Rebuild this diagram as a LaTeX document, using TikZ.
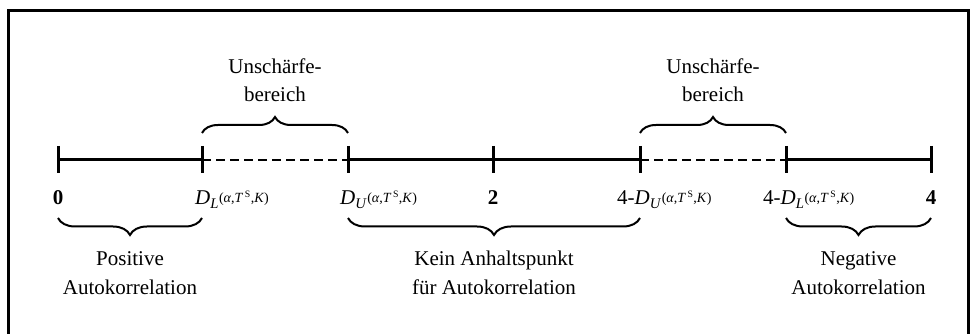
\documentclass[tikz,border=0pt]{standalone}
\usepackage{fontspec}
\setmainfont{Liberation Serif}
\usetikzlibrary{positioning,calc,decorations.pathreplacing}
\newcommand{\Dgrenze}[1]{\textit{D}\textsubscript{\textit{#1}}\raisebox{2pt}{\fontsize{14}{14}\selectfont(\textit{α},\textit{T}\textsuperscript{\,S},\textit{K})}}

\begin{document}
\begin{tikzpicture}[x=1pt,y=1pt,
		font=\fontsize{21}{28.5}\selectfont,
		axis/.style={line width=3pt},
		fuzzy/.style={line width=2.5pt, dash pattern=on 9pt off 5pt},
		tickmark/.style={line width=3pt},
		curlyup/.style={line width=2pt, decorate, decoration={brace, amplitude=16pt}},
		curlydown/.style={line width=2pt, decorate, decoration={brace, mirror, amplitude=17pt}},
		expl/.style={align=center, inner sep=0pt}]
		\useasboundingbox (0,0) rectangle (971,334);
		\draw[line width=3pt] (8,-5) -- (8,323) -- (968,323) -- (968,-5);
		
		% Punkte auf der Achse
		\coordinate (p0) at (58,174);
		\coordinate (p1) at (202,174);
		\coordinate (p2) at (348,174);
		\coordinate (p3) at (493,174);
		\coordinate (p4) at (640,174);
		\coordinate (p5) at (786,174);
		\coordinate (p6) at (931,174);
		
		\draw[axis] (p0) -- (p1);
		\draw[fuzzy] (p1) -- (p2);
		\draw[axis] (p2) -- (p4);
		\draw[fuzzy] (p4) -- (p5);
		\draw[axis] (p5) -- (p6);
		\foreach \i in {0,...,6}
			\draw[tickmark] ([yshift=14pt]p\i) -- ([yshift=-13pt]p\i);
		
		% Beschriftung der Punkte
		\node[below = 45pt of p0, anchor=base, inner sep=0pt] (l0) {\textbf{0}};
		\node[below = 45pt of p1, anchor=base west, xshift=-7pt, inner sep=0pt] (l1) {\Dgrenze{L}};
		\node[below = 45pt of p2, anchor=base west, xshift=-8pt, inner sep=0pt] (l2) {\Dgrenze{U}};
		\node[below = 45pt of p3, anchor=base, inner sep=0pt] (l3) {\textbf{2}};
		\node[below = 45pt of p4, anchor=base west, xshift=-23pt, inner sep=0pt] (l4) {4-\Dgrenze{U}};
		\node[below = 45pt of p5, anchor=base west, xshift=-23pt, inner sep=0pt] (l5) {4-\Dgrenze{L}};
		\node[below = 45pt of p6, anchor=base, inner sep=0pt] (l6) {\textbf{4}};
		
		% Klammern oben
		\draw[curlyup] ([yshift=27pt]p1) -- ([yshift=27pt]p2);
		\draw[curlyup] ([yshift=27pt]p4) -- ([yshift=27pt]p5);
		\node[expl] (u1) at ($(p1)!0.5!(p2)+(0,80)$) {Unschärfe-\\bereich};
		\node[expl] (u2) at ($(p4)!0.5!(p5)+(0,80)$) {Unschärfe-\\bereich};
		
		% Klammern unten
		\draw[curlydown] ([yshift=-58pt]p0) -- ([yshift=-58pt]p1);
		\draw[curlydown] ([yshift=-58pt]p2) -- ([yshift=-58pt]p4);
		\draw[curlydown] ([yshift=-58pt]p5) -- ([yshift=-58pt]p6);
		\node[expl] (pos) at ($(p0)!0.5!(p1)+(0,-113)$) {Positive\\Autokorrelation};
		\node[expl] (kein) at ($(p2)!0.5!(p4)+(0,-113)$) {Kein Anhaltspunkt\\für Autokorrelation};
		\node[expl] (neg) at ($(p5)!0.5!(p6)+(0,-113)$) {Negative\\Autokorrelation};
	\end{tikzpicture}
\end{document}
